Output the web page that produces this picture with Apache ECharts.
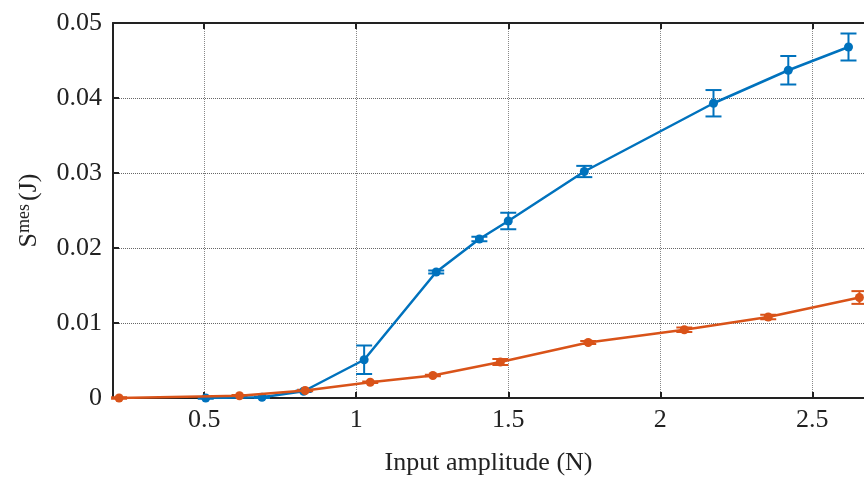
<!DOCTYPE html>
<html>
<head>
<meta charset="utf-8">
<script src="https://cdn.jsdelivr.net/npm/echarts@6/dist/echarts.min.js"></script>
<style>
  html, body { margin: 0; padding: 0; background: #fff; }
  #chart { width: 864px; height: 481px; }
</style>
</head>
<body>
<div id="chart"></div>
<script>
var xTicks = [0.5, 1, 1.5, 2, 2.5];
var yTicks = [0, 0.01, 0.02, 0.03, 0.04, 0.05];

// blue series (x, S, error)
var blueX = [0.505, 0.69, 0.827, 1.026, 1.263, 1.405, 1.5, 1.75, 2.175, 2.421, 2.619];
var blueY = [0.0000, 0.0001, 0.0009, 0.0051, 0.0168, 0.0212, 0.0236, 0.0302, 0.0393, 0.0437, 0.0468];
var blueErr = [0.0001, 0.0001, 0.0001, 0.0019, 0.0002, 0.0003, 0.0011, 0.00075, 0.00176, 0.0019, 0.0018];

// orange series
var orangeX = [0.22, 0.616, 0.832, 1.046, 1.252, 1.474, 1.763, 2.079, 2.355, 2.655];
var orangeY = [0.0000, 0.0003, 0.0010, 0.0021, 0.0030, 0.0048, 0.0074, 0.0091, 0.0108, 0.0134];
var orangeErr = [0.0001, 0.0001, 0.0001, 0.0001, 0.0001, 0.0004, 0.0002, 0.0003, 0.0003, 0.00085];

var blue = '#0072BD';
var orange = '#D95319';
var font = 'Liberation Serif';

function points(xs, ys) {
    return xs.map(function (x, i) { return [x, ys[i]]; });
}

function bars(xs, ys, es) {
    return xs.map(function (x, i) { return [x, ys[i] - es[i], ys[i] + es[i]]; });
}

function errorBar(color) {
    return function (params, api) {
        var lo = api.coord([api.value(0), api.value(1)]);
        var hi = api.coord([api.value(0), api.value(2)]);
        var w = 8;
        var style = { stroke: color, lineWidth: 2 };
        return {
            type: 'group',
            children: [
                { type: 'line', shape: { x1: lo[0], y1: lo[1], x2: hi[0], y2: hi[1] }, style: style },
                { type: 'line', shape: { x1: lo[0] - w, y1: lo[1], x2: lo[0] + w, y2: lo[1] }, style: style },
                { type: 'line', shape: { x1: hi[0] - w, y1: hi[1], x2: hi[0] + w, y2: hi[1] }, style: style }
            ]
        };
    };
}

var chart = echarts.init(document.getElementById('chart'));

var axisLine = { show: true, onZero: false, lineStyle: { color: '#222', width: 2 } };
var tick = { show: true, inside: true, length: 6, lineStyle: { color: '#222', width: 2 } };

var option = {
    animation: false,
    grid: { left: 113, right: 0, top: 23, bottom: 83 },
    xAxis: [
        {
            type: 'value',
            min: 0.2,
            max: 2.67,
            position: 'bottom',
            axisLine: axisLine,
            axisTick: Object.assign({ customValues: xTicks }, tick),
            axisLabel: { customValues: xTicks, color: '#222', fontFamily: font, fontSize: 26, margin: 9 },
            splitLine: { show: true, lineStyle: { type: 'dotted', color: '#888', width: 1 } },
            name: 'Input amplitude (N)',
            nameLocation: 'middle',
            nameGap: 52,
            nameTextStyle: { color: '#222', fontFamily: font, fontSize: 26 }
        },
        {
            type: 'value',
            min: 0.2,
            max: 2.67,
            position: 'top',
            axisLine: axisLine,
            axisTick: Object.assign({ customValues: xTicks }, tick),
            axisLabel: { show: false },
            splitLine: { show: false }
        }
    ],
    yAxis: {
        type: 'value',
        min: 0,
        max: 0.05,
        interval: 0.01,
        axisLine: axisLine,
        axisTick: tick,
        axisLabel: { color: '#222', fontFamily: font, fontSize: 26, margin: 11 },
        splitLine: { show: true, lineStyle: { type: 'dotted', color: '#666', width: 1 } },
        name: '{s|S}{sup|mes} {s|(J)}',
        nameLocation: 'middle',
        nameGap: 70,
        nameRotate: 90,
        nameTextStyle: {
            color: '#222',
            fontFamily: font,
            rich: {
                s: { fontFamily: font, fontSize: 26, color: '#222' },
                sup: { fontFamily: font, fontSize: 18, color: '#222', verticalAlign: 'top', padding: [0, 0, 10, 0] }
            }
        }
    },
    series: [
        {
            type: 'custom',
            renderItem: errorBar(blue),
            data: bars(blueX, blueY, blueErr),
            z: 3
        },
        {
            type: 'custom',
            renderItem: errorBar(orange),
            data: bars(orangeX, orangeY, orangeErr),
            z: 3
        },
        {
            type: 'line',
            data: points(blueX, blueY),
            symbol: 'circle',
            symbolSize: 9,
            itemStyle: { color: blue },
            lineStyle: { color: blue, width: 2.5 },
            z: 4
        },
        {
            type: 'line',
            data: points(orangeX, orangeY),
            symbol: 'circle',
            symbolSize: 9,
            itemStyle: { color: orange },
            lineStyle: { color: orange, width: 2.5 },
            z: 5
        }
    ]
};

chart.setOption(option);
</script>
</body>
</html>
